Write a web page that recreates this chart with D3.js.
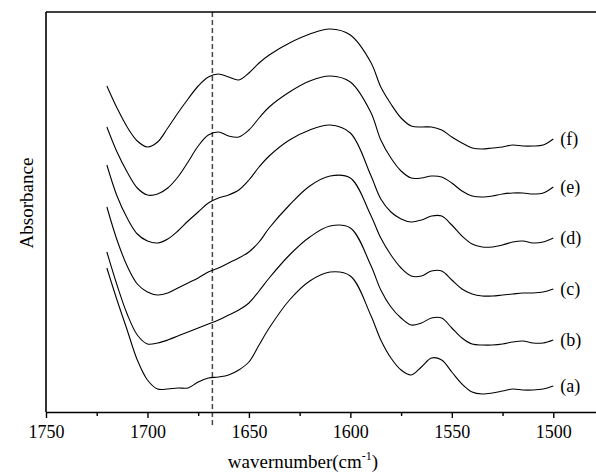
<!DOCTYPE html>
<html><head><meta charset="utf-8">
<script src="https://cdn.jsdelivr.net/npm/d3@7"></script>
<style>html,body{margin:0;padding:0;background:#fff;}svg{display:block;}</style>
</head><body>
<script>
const wavenumbers = [1720,1715,1710,1705,1700,1695,1690,1685,1680,1675,1670,1665,1660,1655,1650,1645,1640,1630,1620,1610,1600,1590,1585,1580,1575,1570,1565,1560,1555,1550,1545,1540,1535,1530,1525,1520,1515,1510,1505,1500];
const seriesA = [144,112,82,52,32,23,23,24,24,30,34,35,37,42,50,67,84,112,131,140,136,97,72,54,42,37,45,54,52,40,28,20,18,19,21,23,22,22,23,26];
const seriesB = [160,127,98,77,68,69,72,76,80,84,88,92,97,102,109,121,134,157,175,186,184,147,122,105,94,87,89,94,94,84,74,68,67,67,68,70,71,69,69,72];
const seriesC = [205,172,146,128,120,117,119,124,129,134,140,144,149,154,160,170,184,207,226,236,234,197,174,157,144,136,136,141,141,132,123,118,116,116,117,118,119,119,120,123];
const seriesD = [247,216,194,178,171,169,173,181,191,200,209,214,217,222,232,245,256,272,282,287,279,237,213,200,193,190,192,196,196,187,176,168,165,165,167,170,171,169,170,174];
const seriesE = [285,260,240,224,217,218,224,235,250,266,277,280,276,275,282,294,305,320,331,336,330,300,272,254,241,234,234,236,235,229,221,216,215,216,218,219,219,218,219,225];
const seriesF = [326,304,285,271,265,270,284,299,313,326,335,338,335,332,339,349,357,369,378,383,377,350,325,308,294,286,285,285,282,275,269,264,263,264,265,267,266,266,267,273];
const seriesLabels = ["(a)","(b)","(c)","(d)","(e)","(f)"];
const majorTicks = [1750,1700,1650,1600,1550,1500];
const minorTicks = [1725,1675,1625,1575,1525];
const markerWavenumber = 1668;
const xDomain = [1750, 1475];
const yDomain = [0, 400];

const W = 596, H = 473;
const mLeft = 46, mRight = 604, mTop = 12, mBottom = 412;
const svg = d3.select("body").append("svg").attr("width", W).attr("height", H);
const x = d3.scaleLinear().domain(xDomain).range([mLeft, mRight]);
const y = d3.scaleLinear().domain(yDomain).range([mBottom, mTop]);
const font = "'Liberation Serif','Times New Roman',serif";

const allSeries = [seriesA, seriesB, seriesC, seriesD, seriesE, seriesF];

// marker dashed line
svg.append("line")
  .attr("x1", x(markerWavenumber)).attr("x2", x(markerWavenumber))
  .attr("y1", mTop).attr("y2", mBottom + 13)
  .attr("stroke", "#444").attr("stroke-width", 1.5).attr("stroke-dasharray", "5,3");

// frame
svg.append("line").attr("x1", mLeft).attr("x2", mRight).attr("y1", mTop).attr("y2", mTop)
  .attr("stroke", "#000").attr("stroke-width", 1.6);
svg.append("line").attr("x1", mLeft).attr("x2", mLeft).attr("y1", mTop).attr("y2", mBottom)
  .attr("stroke", "#000").attr("stroke-width", 1.6);

// bottom axis
const xAxis = d3.axisBottom(x).tickValues(majorTicks).tickSize(6).tickSizeOuter(0).tickFormat(d3.format("d"));
const gx = svg.append("g").attr("transform", `translate(0,${mBottom})`).call(xAxis);
gx.select(".domain").attr("stroke", "#000").attr("stroke-width", 1.6);
gx.selectAll(".tick line").attr("stroke-width", 1.4);
gx.selectAll(".tick text").attr("font-family", font).attr("font-size", 18).attr("fill", "#000").attr("dy", "0.95em");
const xMinor = d3.axisBottom(x).tickValues(minorTicks).tickSize(4).tickFormat("");
const gm = svg.append("g").attr("transform", `translate(0,${mBottom})`).call(xMinor);
gm.select(".domain").remove();
gm.selectAll(".tick line").attr("stroke-width", 1.4);

// curves
const line = d3.line()
  .x((d, i) => x(wavenumbers[i]))
  .y(d => y(d))
  .curve(d3.curveCatmullRom.alpha(0.5));
svg.selectAll("path.spec").data(allSeries).enter().append("path")
  .attr("class", "spec")
  .attr("d", d => line(d))
  .attr("fill", "none").attr("stroke", "#000").attr("stroke-width", 1.1);

// series labels
svg.selectAll("text.lab").data(allSeries).enter().append("text")
  .attr("class", "lab")
  .attr("x", x(1500) + 7)
  .attr("y", d => y(d[d.length - 1]))
  .attr("dy", "0.35em")
  .attr("font-family", font).attr("font-size", 18)
  .text((d, i) => seriesLabels[i]);

// axis titles
const xt = svg.append("text").attr("x", 303).attr("y", 468).attr("text-anchor", "middle")
  .attr("font-family", font).attr("font-size", 19);
xt.append("tspan").text("wavernumber(cm");
xt.append("tspan").attr("font-size", 12).attr("dy", -8).text("-1");
xt.append("tspan").attr("dy", 8).text(")");

svg.append("text").attr("transform", "translate(33,203) rotate(-90)")
  .attr("text-anchor", "middle").attr("font-family", font).attr("font-size", 19)
  .text("Absorbance");
</script>
</body></html>
